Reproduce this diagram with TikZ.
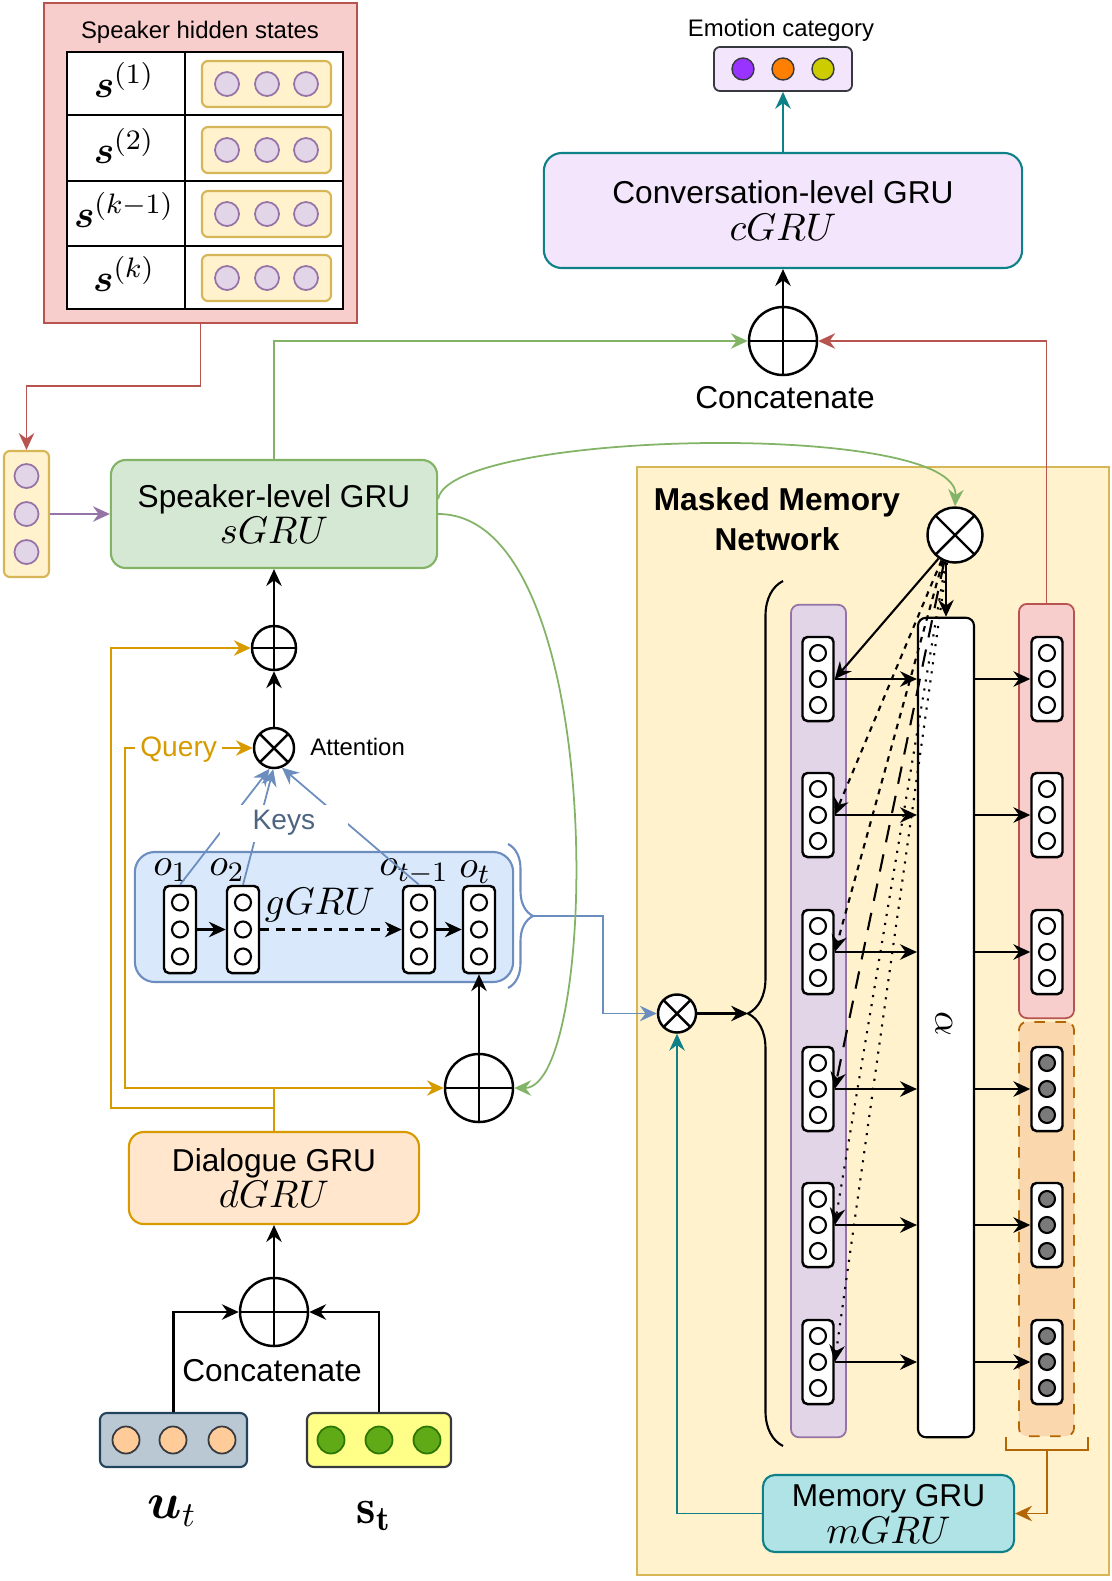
\documentclass[tikz,border=0pt]{standalone}
\usepackage{fontspec}
\setsansfont{Liberation Sans}
\usepackage{amsmath}
\usetikzlibrary{arrows.meta,decorations.pathreplacing}

\definecolor{redfill}{HTML}{F8CECC}
\definecolor{reddraw}{HTML}{B85450}
\definecolor{yelfill}{HTML}{FFF2CC}
\definecolor{yeldraw}{HTML}{D6B656}
\definecolor{purfill}{HTML}{E1D5E7}
\definecolor{purdraw}{HTML}{9673A6}
\definecolor{grnfill}{HTML}{D5E8D4}
\definecolor{grndraw}{HTML}{82B366}
\definecolor{blufill}{HTML}{DAE8FC}
\definecolor{bludraw}{HTML}{6C8EBF}
\definecolor{orgfill}{HTML}{FFE6CC}
\definecolor{orgdraw}{HTML}{D79B00}
\definecolor{lilfill}{HTML}{F3E5FC}
\definecolor{tealdraw}{HTML}{0E8088}
\definecolor{tealfill}{HTML}{B0E3E6}
\definecolor{peachfill}{HTML}{FAD7AC}
\definecolor{peachdraw}{HTML}{B46504}
\definecolor{slatefill}{HTML}{BAC8D3}
\definecolor{slatedraw}{HTML}{23445D}
\definecolor{lemonfill}{HTML}{FFFF88}
\definecolor{inkgray}{HTML}{36393D}
\definecolor{tanfill}{HTML}{FFCC99}
\definecolor{leaffill}{HTML}{60A917}
\definecolor{leafdraw}{HTML}{2D7600}
\definecolor{keystxt}{HTML}{4D6580}
\definecolor{cellgray}{HTML}{7A7A7A}
\definecolor{emopurple}{HTML}{9933FF}
\definecolor{emoorange}{HTML}{FF8000}
\definecolor{emoolive}{HTML}{CCCC00}

\newcommand{\bigtxt}{\sffamily\fontsize{9}{10.5}\selectfont}
\newcommand{\smtxt}{\sffamily\fontsize{6.8}{8}\selectfont}
\newcommand{\keytxt}{\sffamily\fontsize{8}{9.5}\selectfont}
\newcommand{\mltxt}{\fontsize{11}{12.5}\selectfont}
\newcommand{\lbltxt}{\fontsize{14}{16}\selectfont}

\begin{document}
\begin{tikzpicture}[x=0.01cm, y=-0.01cm, >={Stealth[length=4.8pt,width=4.4pt,inset=1.6pt]}]
% Set styles
\tikzset{
  gru/.style={draw, rounded corners=0.15cm, line width=0.6pt, align=center, font=\bigtxt, inner sep=0pt},
  hvec/.style={draw=yeldraw, fill=yelfill, rounded corners=0.06cm, line width=0.6pt, inner sep=0pt},
  hdot/.style={circle, draw=purdraw, fill=purfill, line width=0.5pt, minimum size=0.24cm, inner sep=0pt},
  vbox/.style={draw, fill=white, rounded corners=0.05cm, line width=0.7pt, minimum width=0.31cm, minimum height=0.84cm, inner sep=0pt},
  vcell/.style={circle, draw, fill=white, line width=0.6pt, minimum size=0.16cm, inner sep=0pt},
  opadd/.style={circle, draw, fill=white, line width=0.7pt, inner sep=0pt,
    path picture={\draw[line width=0.7pt] (path picture bounding box.north) -- (path picture bounding box.south)
      (path picture bounding box.west) -- (path picture bounding box.east);}},
  opmul/.style={circle, draw, fill=white, line width=0.7pt, inner sep=0pt,
    path picture={\draw[line width=0.7pt] (path picture bounding box.north west) -- (path picture bounding box.south east)
      (path picture bounding box.north east) -- (path picture bounding box.south west);}},
  blk/.style={draw=black, line width=0.6pt},
  redline/.style={draw=reddraw, line width=0.5pt},
  grnline/.style={draw=grndraw, line width=0.5pt},
  purline/.style={draw=purdraw, line width=0.5pt},
  orgline/.style={draw=orgdraw, line width=0.5pt},
  bluline/.style={draw=bludraw, line width=0.5pt},
  tealline/.style={draw=tealdraw, line width=0.5pt},
  peachline/.style={draw=peachdraw, line width=0.5pt}
}

% Canvas
\path[fill=white] (0,0) rectangle (1112,1581);

% Speaker hidden states
\node[draw=reddraw, fill=redfill, line width=0.6pt, minimum width=3.13cm, minimum height=3.2cm, inner sep=0pt] (spk) at (200.5,163) {};
\node[font=\smtxt] (spktitle) at (200,32) {Speaker hidden states};
\node[draw, fill=white, line width=0.8pt, minimum width=2.76cm, minimum height=2.57cm, inner sep=0pt] (tab) at (205,180.5) {};
\draw[line width=0.8pt] (185,52) -- (185,309);
\foreach \y in {115,181,246} \draw[line width=0.8pt] (67,\y) -- (343,\y);
\foreach \lab/\y [count=\i] in {{(1)}/84, {(2)}/150, {(k-1)}/214, {(k)}/278} {
  \node[font=\mltxt] (slab\i) at (124,\y-4) {$\boldsymbol{s}^{\lab}$};
  \node[hvec, minimum width=1.29cm, minimum height=0.46cm] (srow\i) at (266.5,\y) {};
  \foreach \x [count=\j] in {227,267,306} \node[hdot] (srow\i-\j) at (\x,\y) {};
}

% Current speaker state
\node[hvec, minimum width=0.45cm, minimum height=1.26cm] (spkvec) at (26.5,514) {};
\foreach \y [count=\j] in {476,514,552} \node[hdot] (spkvec-\j) at (26.5,\y) {};
\draw[redline,->] (spk.south) -- (200.5,386) -| (spkvec.north);

% Speaker-level GRU
\node[gru, draw=grndraw, fill=grnfill, minimum width=3.26cm, minimum height=1.08cm] (sgru) at (274,514) {Speaker-level GRU\\{\mltxt$sGRU$}};
\draw[purline,->] (spkvec.east) -- (sgru.west);

% Conversation-level GRU and output
\node[gru, draw=tealdraw, fill=lilfill, rounded corners=0.18cm, minimum width=4.78cm, minimum height=1.15cm] (cgru) at (783,210.5) {Conversation-level GRU\\{\mltxt$cGRU$}};
\node[draw=inkgray, fill=lilfill, rounded corners=0.06cm, line width=0.5pt, minimum width=1.38cm, minimum height=0.44cm, inner sep=0pt] (emo) at (783,69) {};
\foreach \x/\c [count=\j] in {743/emopurple, 783/emoorange, 823/emoolive}
  \node[circle, draw=inkgray, fill=\c, line width=0.4pt, minimum size=0.22cm, inner sep=0pt] (emo-\j) at (\x,69) {};
\node[font=\smtxt] (emotitle) at (781,30) {Emotion category};
\node[opadd, minimum size=0.68cm] (cat1) at (783,341) {};
\node[font=\bigtxt] (cat1lab) at (785,398) {Concatenate};
\draw[blk,->] (cat1.north) -- (cgru.south);
\draw[tealline,->] (cgru.north) -- (emo.south);
\draw[grnline,->] (sgru.north) |- (cat1.west);

% Attention over the global states
\node[opadd, minimum size=0.44cm] (add1) at (274,648) {};
\node[opmul, minimum size=0.40cm] (att) at (274,748) {};
\node[font=\smtxt, anchor=west] (attlab) at (298,747) {Attention};
\draw[blk,->] (att.north) -- (add1.south);
\draw[blk,->] (add1.north) -- (sgru.south);

% Global GRU
\node[draw=bludraw, fill=blufill, rounded corners=0.2cm, line width=0.6pt, minimum width=3.78cm, minimum height=1.30cm, inner sep=0pt] (ggru) at (324,917) {};
\foreach \n/\x in {o1/180, o2/243, ot1/419, ot/479} {
  \node[vbox, minimum width=0.32cm, minimum height=0.87cm] (\n) at (\x,929.5) {};
  \foreach \dy [count=\j] in {-27,0,27} \node[vcell] (\n-\j) at (\x,929.5+\dy) {};
}
\node[font=\mltxt] (o1lab) at (171,870) {$o_1$};
\node[font=\mltxt] (o2lab) at (227,870) {$o_2$};
\node[font=\mltxt] (ot1lab) at (414,872) {$o_{t-1}$};
\node[font=\mltxt] (otlab) at (475,872) {$o_t$};
\node[font=\mltxt] (gglab) at (320,905) {$gGRU$};
\draw[blk,->] (o1.east) -- (o2.west);
\draw[blk,->,dash pattern=on 2.5pt off 2pt] (o2.east) -- (ot1.west);
\draw[blk,->] (ot1.east) -- (ot.west);
\draw[bludraw, line width=0.6pt, decorate, decoration={brace, amplitude=0.25cm}] (508,844) -- (508,988);
\coordinate (gtip) at (533,916);

% Keys
\draw[bluline,->] (o1.north) -- (att.258);
\draw[bluline,->] (o2.north) -- (att.268);
\draw[bluline,->] (ot1.north) -- (att.292);
\node[font=\keytxt, text=keystxt, fill=white, minimum width=1.27cm, minimum height=0.37cm, inner sep=0pt] (keys) at (284,823) {Keys};

% Dialogue GRU and inputs
\node[gru, draw=orgdraw, fill=orgfill, minimum width=2.9cm, minimum height=0.92cm] (dgru) at (274,1178) {Dialogue GRU\\{\mltxt$dGRU$}};
\node[opadd, minimum size=0.68cm] (cat2) at (274,1312) {};
\node[font=\bigtxt] (cat2lab) at (272,1371) {Concatenate};
\node[draw=slatedraw, fill=slatefill, rounded corners=0.07cm, line width=0.6pt, minimum width=1.47cm, minimum height=0.54cm, inner sep=0pt] (ut) at (173.5,1440) {};
\foreach \x [count=\j] in {126,173,222}
  \node[circle, draw=inkgray, fill=tanfill, line width=0.5pt, minimum size=0.27cm, inner sep=0pt] (ut-\j) at (\x,1440) {};
\node[draw=inkgray, fill=lemonfill, rounded corners=0.07cm, line width=0.6pt, minimum width=1.44cm, minimum height=0.54cm, inner sep=0pt] (st) at (379,1440) {};
\foreach \x [count=\j] in {331,379,427}
  \node[circle, draw=leafdraw, fill=leaffill, line width=0.5pt, minimum size=0.27cm, inner sep=0pt] (st-\j) at (\x,1440) {};
\node[font=\lbltxt] (utlab) at (172,1511) {$\boldsymbol{u}_t$};
\node[font=\lbltxt] (stlab) at (374,1516) {$\mathbf{s}_{\mathbf{t}}$};
\draw[blk,->] (ut.north) |- (cat2.west);
\draw[blk,->] (st.north) |- (cat2.east);
\draw[blk,->] (cat2.north) -- (dgru.south);

% Global state update
\node[opadd, minimum size=0.68cm] (add2) at (479,1088) {};
\draw[blk,->] (add2.north) -- (ot.south);
\draw[orgline,->] (dgru.north) -- (274,1108) -- (111,1108) -- (111,648) -- (add1.west);
\draw[orgline,->] (dgru.north) -- (274,1088) -- (add2.west);
\draw[orgline,->] (274,1088) -- (125,1088) -- (125,748) -- node[pos=0.42, font=\keytxt, text=orgdraw, fill=white, inner sep=1.5pt, yshift=-0.02cm] (query) {Query} (att.west);

% Masked Memory Network
\node[draw=yeldraw, fill=yelfill, line width=0.6pt, minimum width=4.72cm, minimum height=11.08cm, inner sep=0pt] (mmn) at (873,1021) {};
\node[font=\sffamily\bfseries\fontsize{9}{11.5}\selectfont, align=center] (mmntitle) at (777,519) {Masked Memory\\Network};
\node[opmul, minimum size=0.55cm] (mmx) at (955,535) {};
\node[draw=purdraw, fill=purfill, rounded corners=0.08cm, line width=0.5pt, minimum width=0.55cm, minimum height=8.32cm, inner sep=0pt] (memcol) at (818.5,1021) {};
\node[draw, fill=white, rounded corners=0.08cm, line width=0.6pt, minimum width=0.56cm, minimum height=8.19cm, inner sep=0pt] (alpha) at (946,1027.5) {};
\node[font=\mltxt, rotate=-90] (alphalab) at (944,1024) {$\alpha$};
\node[draw=reddraw, fill=redfill, rounded corners=0.08cm, line width=0.5pt, minimum width=0.55cm, minimum height=4.14cm, inner sep=0pt] (redcol) at (1046.5,811) {};
\node[draw=peachdraw, fill=peachfill, rounded corners=0.08cm, line width=0.5pt, dashed, minimum width=0.55cm, minimum height=4.14cm, inner sep=0pt] (peachcol) at (1046.5,1229) {};
\foreach \y/\c [count=\i] in {679/white, 815/white, 952/white, 1089/cellgray, 1225/cellgray, 1362/cellgray} {
  \node[vbox] (m\i) at (818,\y) {};
  \node[vbox] (r\i) at (1047,\y) {};
  \foreach \dy [count=\j] in {-26,0,26} {
    \node[vcell] (m\i-\j) at (818,\y+\dy) {};
    \node[vcell, fill=\c] (r\i-\j) at (1047,\y+\dy) {};
  }
  \draw[blk,->] (m\i.east) -- (m\i.east -| alpha.west);
  \draw[blk,->] (m\i.east -| alpha.east) -- (r\i.west);
}
\draw[blk,->] (mmx.south -| alpha.north) -- (alpha.north);
\draw[blk,->] (mmx.235) -- (m1.east);
\draw[blk,->,dash pattern=on 1.6pt off 1.6pt] (mmx.242) -- (m2.east);
\draw[blk,->,dash pattern=on 1.6pt off 1.6pt] (mmx.245) -- (m3.east);
\draw[blk,->,dash pattern=on 5pt off 3.5pt] (mmx.248) -- (m4.east);
\draw[blk,->,dotted] (mmx.251) -- (m5.east);
\draw[blk,->,dotted] (mmx.254) -- (m6.east);
\draw[blk, decorate, decoration={brace, amplitude=0.35cm}] (783,1446) -- (783,581);
\coordinate (bigtip) at (748,1013.5);
\node[opmul, minimum size=0.38cm] (mx2) at (677,1013.5) {};
\draw[blk,->] (mx2.east) -- (bigtip);
\node[gru, draw=tealdraw, fill=tealfill, rounded corners=0.12cm, minimum width=2.51cm, minimum height=0.77cm] (mgru) at (888.5,1513.5) {Memory GRU\\{\mltxt$mGRU$}};
\draw[peachline] (1006,1437) |- (1088,1450) -- (1088,1437);
\coordinate (pkbr) at (1047,1450);
\draw[peachline,->] (pkbr) |- (mgru.east);
\draw[tealline,->] (mgru.west) -| (mx2.south);
\draw[bluline,->] (gtip) -- (603,916) |- (mx2.west);

% Links across the picture
\draw[redline,->] (redcol.north) |- (cat1.east);
\draw[grnline,->] ([yshift=0.15cm]sgru.east) .. controls (450,430) and (960,420) .. (mmx.north);
\draw[grnline,->] (sgru.east) .. controls (610,514) and (600,1088) .. (add2.east);
\end{tikzpicture}
\end{document}
